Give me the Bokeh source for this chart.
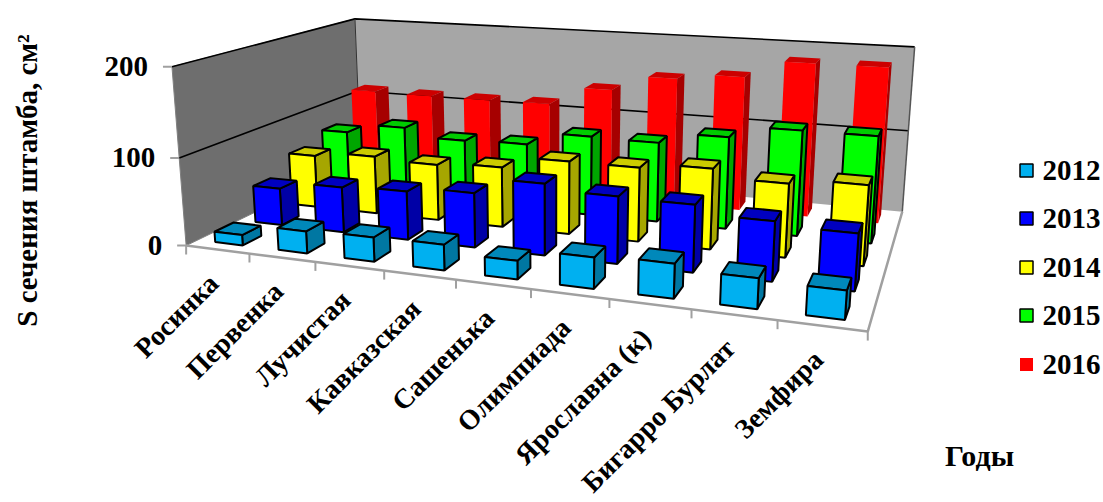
import numpy as np
from bokeh.plotting import figure
from bokeh.embed import file_html
from bokeh.resources import INLINE
from bokeh.core.properties import value

categories = ["Росинка", "Первенка", "Лучистая", "Кавказская", "Сашенька", "Олимпиада", "Ярославна (к)", "Бигарро Бурлат", "Земфира"]
years = ["2012", "2013", "2014", "2015", "2016"]
s2012 = [12, 25, 27, 28, 20, 33, 36, 31, 29]
s2013 = [44, 53, 56, 62, 80, 74, 73, 64, 60]
s2014 = [64, 70, 67, 71, 85, 85, 91, 82, 88]
s2015 = [76, 88, 78, 80, 96, 95, 108, 122, 122]
s2016 = [114, 113, 113, 114, 137, 156, 163, 184, 184]
series = [s2012, s2013, s2014, s2015, s2016]
y_ticks = [0, 100, 200]
front = ["#00B0F0", "#0000FF", "#FFFF00", "#00FF00", "#FF0000"]
side = ["#0077A2", "#0000A6", "#A6A600", "#00A600", "#A60000"]
top = ["#0088BA", "#0000C0", "#CCCC00", "#00CC00", "#CC0000"]
outline = ["#000000", "#000000", "#000000", "#000000", None]

# camera calibration: box corners (category, series, value) -> page pixels
calib = [(0,0,0,186,245),(9,0,0,867,332),(0,5,0,360,161),(9,5,0,902,210),
         (0,0,200,171,66),(0,5,200,355,18),(9,5,200,914,47),
         (0,0,100,179,157),(0,5,100,357,91),(9,5,100,908,130)]
A, b = [], []
for X, Z, Y, u, v in calib:
    A.append([X, Z, Y, 1, 0, 0, 0, 0, -u*X, -u*Z, -u*Y]); b.append(u)
    A.append([0, 0, 0, 0, X, Z, Y, 1, -v*X, -v*Z, -v*Y]); b.append(v)
m = np.linalg.lstsq(np.array(A, float), np.array(b, float), rcond=None)[0]
P = np.append(m, 1).reshape(3, 4)

def pr(X, Z, Y):
    q = P @ np.array([X, Z, Y, 1.0])
    return float(q[0]/q[2]), float(q[1]/q[2])

def poly(pts):
    c = [pr(*t) for t in pts]
    return [a for a, _ in c], [d for _, d in c]

W, H = 1103, 502
p = figure(width=W, height=H, x_range=(0, W), y_range=(H, 0), output_backend="svg",
           toolbar_location=None, min_border=0, outline_line_color=None)
p.axis.visible = False
p.grid.visible = False
n, s = len(categories), len(years)
ymax = y_ticks[-1]

xs, ys = poly([(0,0,0),(0,s,0),(0,s,ymax),(0,0,ymax)])
p.patch(xs, ys, fill_color="#6E6E6E", line_color="#808080", line_width=1)
xs, ys = poly([(0,s,0),(n,s,0),(n,s,ymax),(0,s,ymax)])
p.patch(xs, ys, fill_color="#A6A6A6", line_color=None)
for t in y_ticks[1:]:
    xs, ys = poly([(0,0,t),(0,s,t),(n,s,t)])
    p.line(xs, ys, line_color="black", line_width=1.6)
xs, ys = poly([(0,s,0),(0,s,ymax)])
p.line(xs, ys, line_color="#333333", line_width=1)
xs, ys = poly([(n,s,0),(n,s,ymax)])
p.line(xs, ys, line_color="#555555", line_width=1.5)

# floor edges
xs, ys = poly([(0,0,0),(n,0,0),(n,s,0)])
p.line(xs, ys, line_color="#A0A0A0", line_width=2.5)
for i in range(n+1):
    a, d = pr(i, 0, 0)
    p.line([a, a], [d, d+9], line_color="#A0A0A0", line_width=2)
for t in y_ticks:
    a, d = pr(0, 0, t)
    p.line([a-9, a], [d, d], line_color="#A0A0A0", line_width=2)
    p.text([a-24], [d], text=[str(t)], text_align="right", text_baseline="middle",
           text_font=value("Liberation Serif"), text_font_style="bold", text_font_size="29px", text_color="black")

wx, wz = 0.44, 0.46
for j in range(s-1, -1, -1):
    for i in range(n):
        v = series[j][i]
        x0, x1 = i+(1-wx)/2, i+(1+wx)/2
        z0, z1 = j+(1-wz)/2, j+(1+wz)/2
        for pts, col in (([(x1,z0,0),(x1,z1,0),(x1,z1,v),(x1,z0,v)], side[j]),
                         ([(x0,z0,v),(x1,z0,v),(x1,z1,v),(x0,z1,v)], top[j]),
                         ([(x0,z0,0),(x1,z0,0),(x1,z0,v),(x0,z0,v)], front[j])):
            xs, ys = poly(pts)
            p.patch(xs, ys, fill_color=col, line_color=outline[j], line_width=2)

for i, c in enumerate(categories):
    a, d = pr(i+0.5, 0, 0)
    p.text([a-4], [d+29], text=[c], angle=np.pi/4, text_align="right", text_baseline="middle",
           text_font=value("Liberation Serif"), text_font_style="bold", text_font_size="28px", text_color="black")

legend_y = [170, 218, 267, 315, 364]
for j, yr in enumerate(years):
    p.rect([1026], [legend_y[j]], width=13, height=13, fill_color=front[j], line_color=outline[j], line_width=1.5)
    p.text([1042], [legend_y[j]], text=[yr], text_align="left", text_baseline="middle",
           text_font=value("Liberation Serif"), text_font_style="bold", text_font_size="29px", text_color="black")

p.text([26], [180], text=["S сечения штамба, см²"], angle=np.pi/2, text_align="center", text_baseline="middle",
       text_font=value("Liberation Serif"), text_font_style="bold", text_font_size="29px", text_color="black")
p.text([979], [455], text=["Годы"], text_align="center", text_baseline="middle",
       text_font=value("Liberation Serif"), text_font_style="bold", text_font_size="30px", text_color="black")

open("out.html", "w").write(file_html(p, INLINE))
